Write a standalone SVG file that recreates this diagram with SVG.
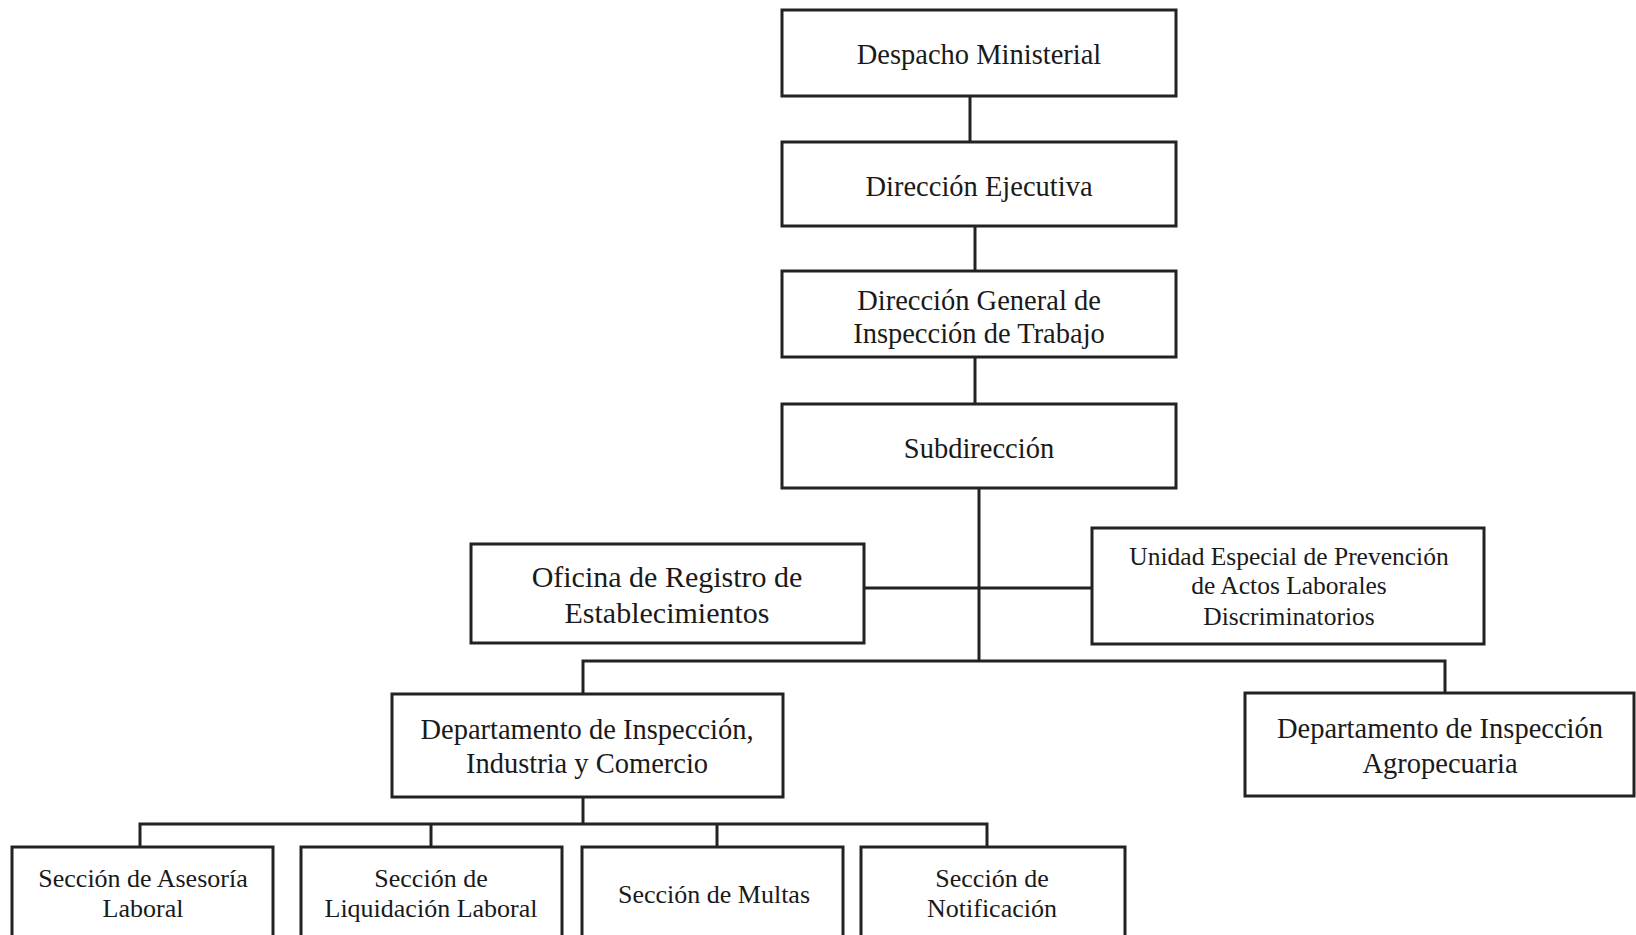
<svg xmlns="http://www.w3.org/2000/svg" width="1636" height="935" viewBox="0 0 1636 935">
<style>
.box{fill:#fff;stroke:#222;stroke-width:3}
.ln{stroke:#222;stroke-width:3;fill:none}
text{font-family:"Liberation Serif","Times New Roman",serif;fill:#1a1a1a;text-anchor:middle;dominant-baseline:central}
.tm{font-size:28.5px}
.to{font-size:30px}
.tu{font-size:25.5px}
.ts{font-size:26px}
</style>
<rect width="1636" height="935" fill="#fff"/>
<g id="connectors">
<line class="ln" x1="970" y1="96" x2="970" y2="142"/>
<line class="ln" x1="975" y1="226" x2="975" y2="271"/>
<line class="ln" x1="975" y1="357" x2="975" y2="404"/>
<line class="ln" x1="979" y1="488" x2="979" y2="661"/>
<line class="ln" x1="864" y1="588" x2="1092" y2="588"/>
<polyline class="ln" points="583,694 583,661 1445,661 1445,693"/>
<line class="ln" x1="583" y1="797" x2="583" y2="824"/>
<polyline class="ln" points="140,847 140,824 987,824 987,847"/>
<line class="ln" x1="431" y1="824" x2="431" y2="847"/>
<line class="ln" x1="717" y1="824" x2="717" y2="847"/>
</g>
<g id="despacho"><rect class="box" x="782" y="10" width="394" height="86"/><text class="tm" x="979" y="54">Despacho Ministerial</text></g>
<g id="direccion-ejecutiva"><rect class="box" x="782" y="142" width="394" height="84"/><text class="tm" x="979" y="186">Dirección Ejecutiva</text></g>
<g id="direccion-general"><rect class="box" x="782" y="271" width="394" height="86"/><text class="tm" x="979" y="300">Dirección General de</text><text class="tm" x="979" y="333">Inspección de Trabajo</text></g>
<g id="subdireccion"><rect class="box" x="782" y="404" width="394" height="84"/><text class="tm" x="979" y="448">Subdirección</text></g>
<g id="oficina"><rect class="box" x="471" y="544" width="393" height="99"/><text class="to" x="667" y="576">Oficina de Registro de</text><text class="to" x="667" y="612">Establecimientos</text></g>
<g id="unidad"><rect class="box" x="1092" y="528" width="392" height="116"/><text class="tu" x="1289" y="556">Unidad Especial de Prevención</text><text class="tu" x="1289" y="585">de Actos Laborales</text><text class="tu" x="1289" y="616">Discriminatorios</text></g>
<g id="dept-industria"><rect class="box" x="392" y="694" width="391" height="103"/><text class="tm" x="587" y="729">Departamento de Inspección,</text><text class="tm" x="587" y="763">Industria y Comercio</text></g>
<g id="dept-agro"><rect class="box" x="1245" y="693" width="389" height="103"/><text class="tm" x="1440" y="728">Departamento de Inspección</text><text class="tm" x="1440" y="763">Agropecuaria</text></g>
<g id="sec-asesoria"><rect class="box" x="12" y="847" width="261" height="100"/><text class="ts" x="143" y="878">Sección de Asesoría</text><text class="ts" x="143" y="908">Laboral</text></g>
<g id="sec-liquidacion"><rect class="box" x="301" y="847" width="261" height="100"/><text class="ts" x="431" y="878">Sección de</text><text class="ts" x="431" y="908">Liquidación Laboral</text></g>
<g id="sec-multas"><rect class="box" x="582" y="847" width="261" height="100"/><text class="ts" x="714" y="894">Sección de Multas</text></g>
<g id="sec-notificacion"><rect class="box" x="861" y="847" width="264" height="100"/><text class="ts" x="992" y="878">Sección de</text><text class="ts" x="992" y="908">Notificación</text></g>
</svg>
